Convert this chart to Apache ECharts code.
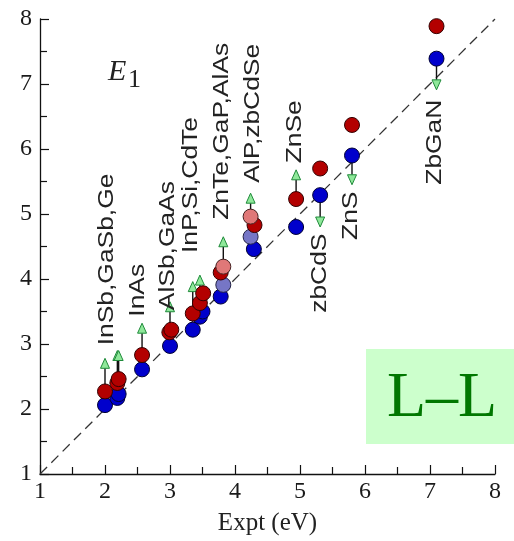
<!DOCTYPE html>
<html>
<head>
<meta charset="utf-8">
<script src="https://cdn.jsdelivr.net/npm/echarts@6/dist/echarts.min.js"></script>
<style>
  html, body { margin: 0; padding: 0; background: #fff; }
  #chart { width: 514px; height: 541px; }
</style>
</head>
<body>
<div id="chart"></div>
<script>
// measured (Expt) vs calculated E1 values
const redX = [2.00, 2.19, 2.21, 2.57, 2.99, 3.02, 3.35, 3.46, 3.51, 3.78, 4.30, 4.94, 5.31, 5.80, 7.10];
const redY = [2.27, 2.40, 2.46, 2.83, 3.18, 3.22, 3.47, 3.63, 3.78, 4.10, 4.83, 5.23, 5.70, 6.37, 7.89];
const blueX = [2.00, 2.19, 2.21, 2.57, 3.00, 3.35, 3.46, 3.50, 3.78, 4.29, 4.94, 5.31, 5.80, 7.10];
const blueY = [2.06, 2.17, 2.23, 2.61, 2.97, 3.22, 3.42, 3.50, 3.73, 4.46, 4.80, 5.29, 5.90, 7.39];
const pinkX = [3.82, 4.24];
const pinkY = [4.19, 4.96];
const lavX = [3.82, 4.24];
const lavY = [3.91, 4.65];

// arrows: x, start value, tip value
const arrowX = [2.00, 2.19, 2.21, 2.57, 3.00, 3.35, 3.46, 3.82, 4.24, 4.94, 5.31, 5.80, 7.10];
const arrowFrom = [2.27, 2.40, 2.46, 2.83, 3.22, 3.47, 3.63, 4.19, 4.96, 5.23, 5.29, 5.90, 7.39];
const arrowTo = [2.78, 2.90, 2.90, 3.32, 3.65, 3.96, 4.06, 4.65, 5.32, 5.68, 4.80, 5.45, 6.91];

// compound labels (vertical), anchored at their lower end
const labelTexts = ['InSb,GaSb,Ge', 'InAs', 'AlSb,GaAs', 'InP,Si,CdTe', 'ZnTe,GaP,AlAs', 'AlP,zbCdSe', 'ZnSe', 'zbCdS', 'ZnS', 'ZbGaN'];
const labelX = [2.03, 2.51, 2.97, 3.32, 3.80, 4.28, 4.92, 5.31, 5.78, 7.08];
const labelY = [2.98, 3.42, 3.52, 4.40, 4.91, 5.48, 5.78, 3.48, 4.60, 5.45];

const diagX = [1, 8];

const serif = '"Liberation Serif", "Times New Roman", serif';
const sans = '"Liberation Sans", Arial, sans-serif';

var chart = echarts.init(document.getElementById('chart'));

function pts(xs, ys) {
  return xs.map((x, i) => [x, ys[i]]);
}

function dot(name, xs, ys, fill, edge, z) {
  return {
    name: name,
    type: 'scatter',
    data: pts(xs, ys),
    symbol: 'circle',
    symbolSize: 15,
    z: z,
    itemStyle: { color: fill, borderColor: edge, borderWidth: 1, opacity: 1 }
  };
}

var option = {
  animation: false,
  grid: { left: 40, right: 19, top: 19, bottom: 67, containLabel: false },
  xAxis: {
    type: 'value',
    min: 1, max: 8, interval: 1,
    name: 'Expt (eV)',
    nameLocation: 'middle',
    nameGap: 37,
    nameTextStyle: { fontFamily: serif, fontSize: 25, color: '#222' },
    axisLine: { lineStyle: { color: '#111', width: 1.3 } },
    axisTick: { inside: true, length: 9, lineStyle: { color: '#111', width: 1.2 } },
    minorTick: { show: true, splitNumber: 2, length: 7, lineStyle: { color: '#111', width: 1.2 } },
    splitLine: { show: false },
    axisLabel: { fontFamily: serif, fontSize: 24, color: '#1a1a1a', margin: 6 }
  },
  yAxis: {
    type: 'value',
    min: 1, max: 8, interval: 1,
    axisLine: { show: true, lineStyle: { color: '#111', width: 1.3 } },
    axisTick: { show: true, inside: true, length: 9, lineStyle: { color: '#111', width: 1.2 } },
    minorTick: { show: true, splitNumber: 2, length: 7, lineStyle: { color: '#111', width: 1.2 } },
    splitLine: { show: false },
    axisLabel: { fontFamily: serif, fontSize: 24, color: '#1a1a1a', margin: 8 }
  },
  graphic: [
    { type: 'rect', right: 0, top: 349, shape: { width: 148, height: 95 }, style: { fill: '#ccffcc' }, z: 1 },
    { type: 'text', x: 442, y: 399, style: { text: 'L\u2013L', font: '64px ' + serif, fill: '#007700', align: 'center', verticalAlign: 'middle' }, z: 2 },
    { type: 'text', x: 108, y: 72, style: { text: 'E', font: 'italic 30px ' + serif, fill: '#222', align: 'left', verticalAlign: 'middle' }, z: 2 },
    { type: 'text', x: 128, y: 80, style: { text: '1', font: '26px ' + serif, fill: '#222', align: 'left', verticalAlign: 'middle' }, z: 2 }
  ],
  series: [
    {
      type: 'line',
      data: diagX.map(v => [v, v]),
      symbol: 'none',
      z: 1,
      lineStyle: { color: '#333', width: 1.3, type: [10, 6] }
    },
    {
      type: 'custom',
      z: 2,
      data: arrowX.map((x, i) => [x, arrowFrom[i], arrowTo[i]]),
      renderItem: function (params, api) {
        var a = api.coord([api.value(0), api.value(1)]);
        var b = api.coord([api.value(0), api.value(2)]);
        var dir = b[1] < a[1] ? -1 : 1;
        var head = 10, hw = 4.5;
        var baseY = b[1] - dir * head;
        return {
          type: 'group',
          children: [
            { type: 'line', shape: { x1: a[0], y1: a[1], x2: b[0], y2: baseY }, style: { stroke: '#111', lineWidth: 1.4 } },
            { type: 'polygon', shape: { points: [[b[0], b[1]], [b[0] - hw, baseY], [b[0] + hw, baseY]] },
              style: { fill: '#8fe89a', stroke: '#1f8a3a', lineWidth: 1 } }
          ]
        };
      }
    },
    {
      type: 'custom',
      z: 2,
      data: labelX.map((x, i) => [x, labelY[i]]),
      renderItem: function (params, api) {
        var p = api.coord([api.value(0), api.value(1)]);
        return {
          type: 'text',
          x: p[0], y: p[1],
          rotation: Math.PI / 2,
          scaleX: 1.2,
          style: { text: labelTexts[params.dataIndex], font: '22px ' + sans, fill: '#222', align: 'left', verticalAlign: 'middle' }
        };
      }
    },
    dot('blue', blueX, blueY, '#0000cc', '#000033', 3),
    dot('lavender', lavX, lavY, '#7676c6', '#222244', 4),
    dot('red', redX, redY, '#b30000', '#330000', 5),
    dot('pink', pinkX, pinkY, '#e07878', '#442222', 6)
  ]
};
chart.setOption(option);
</script>
</body>
</html>
